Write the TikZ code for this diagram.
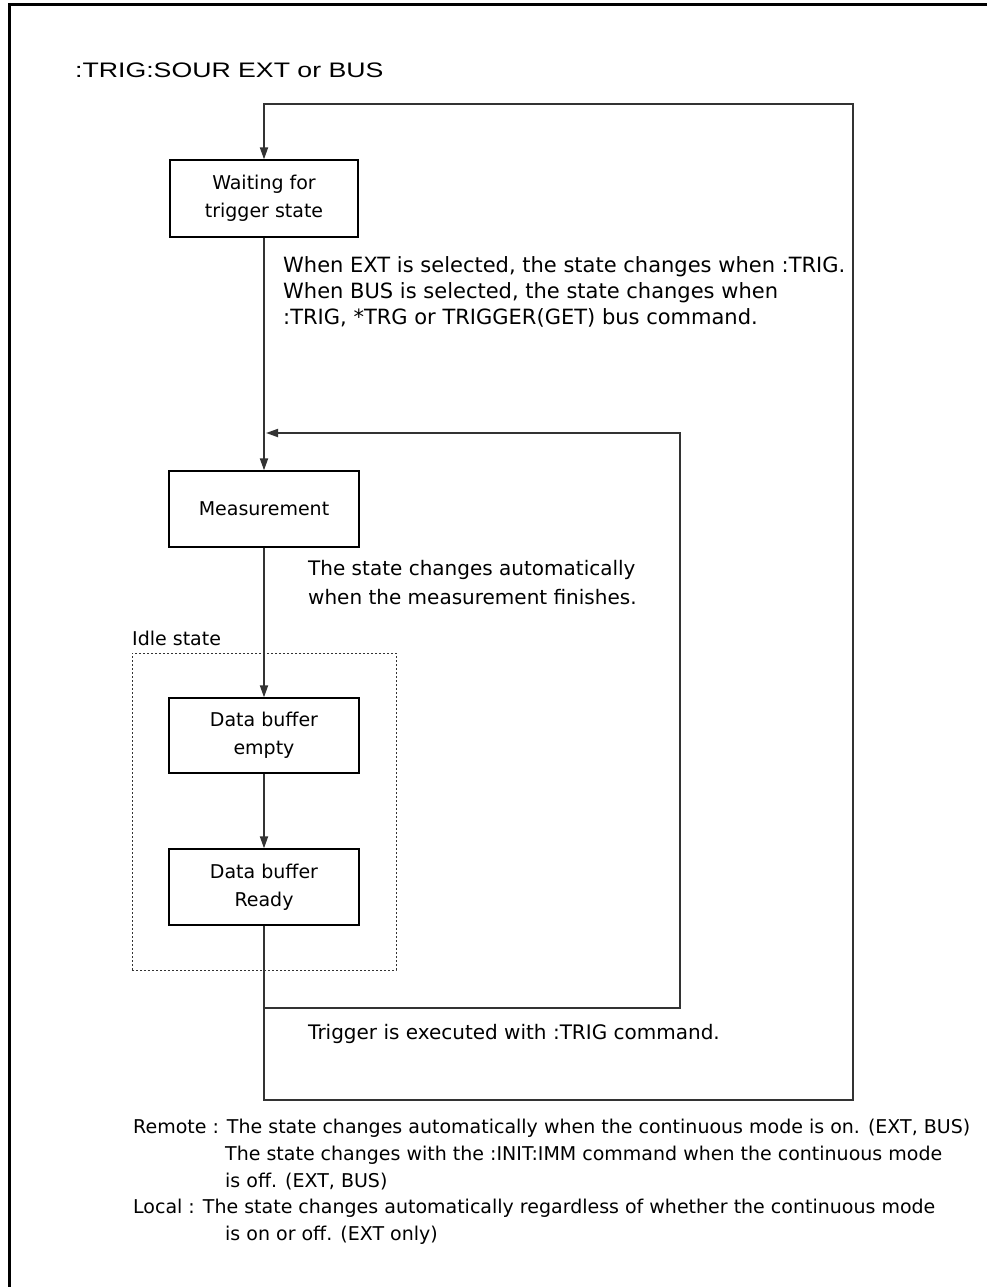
\documentclass[tikz,border=0pt]{standalone}
\usepackage{fontspec}
\usepackage{graphicx}
\setmainfont{DejaVu Sans}
\newfontfamily\titlefont{Liberation Sans}
\usetikzlibrary{arrows.meta}
\begin{document}
\begin{tikzpicture}[x=1pt,y=-1pt,
  every node/.style={font=\fontsize{19}{27}\selectfont, inner sep=0pt},
  state/.style={draw=black, line width=1.3pt, minimum width=190pt, minimum height=76pt, align=center, font=\fontsize{19}{28}\selectfont},
  conn/.style={draw=black!80, line width=1.8pt},
  arr/.style={conn, -{Triangle[length=12pt,width=8pt]}},
  note/.style={anchor=base west, align=left},
  bignote/.style={note, font=\fontsize{20}{27}\selectfont},
  frame/.style={draw=black, line width=3pt},
  idlebox/.style={draw=black!80, line width=1pt, dash pattern=on 2pt off 2pt}]
\useasboundingbox (0,0) rectangle (987,1287);
% outer frame (right and bottom edges lie outside the picture)
\draw[frame] (9,1300) -- (9,5) -- (1000,5);

\node[anchor=base west, font=\titlefont\fontsize{21}{25}\selectfont] (title) at (75,78) {\scalebox{1.27}[1]{:TRIG:SOUR EXT or BUS}};

% states
\node[state, minimum width=188pt, minimum height=77pt] (wait) at (264,198.5) {Waiting for\\trigger state};
\node[state] (meas) at (264,509) {Measurement};
\node[idlebox, minimum width=264pt, minimum height=317pt] (idle) at (264,811.5) {};
\node[anchor=base west] (idlelbl) at (132,645) {Idle state};
\node[state, minimum height=75pt] (empty) at (264,735.5) {Data buffer\\empty};
\node[state] (ready) at (264,887) {Data buffer\\Ready};

% loop corners
\coordinate (tl) at (264,104);
\coordinate (tr) at (853,104);
\coordinate (br) at (853,1100);
\coordinate (bl) at (264,1100);
\coordinate (il) at (264,1008);
\coordinate (ir) at (680,1008);
\coordinate (itr) at (680,433);
\coordinate (itl) at (266,433);

% connectors
\draw[arr] (ready.south) -- (bl) -- (br) -- (tr) -- (tl) -- (wait.north);
\draw[arr] (wait.south) -- (meas.north);
\draw[arr] (meas.south) -- (empty.north);
\draw[arr] (empty.south) -- (ready.north);
\draw[arr] (il) -- (ir) -- (itr) -- (itl);

% notes (anchor base = baseline of the last line)
\node[note, font=\fontsize{21}{26}\selectfont] (t1) at (283,324) {When EXT is selected, the state changes when :TRIG.\\When BUS is selected, the state changes when\\:TRIG, *TRG or TRIGGER(GET) bus command.};
\node[bignote, font=\fontsize{20}{29}\selectfont] (t2) at (308,604) {The state changes automatically\\when the measurement finishes.};
\node[bignote] (t3) at (308,1039) {Trigger is executed with :TRIG command.};
\node[note] (remote) at (133,1133) {Remote : The state changes automatically when the continuous mode is on. (EXT, BUS)};
\node[note] (remote2) at (225,1187) {The state changes with the :INIT:IMM command when the continuous mode\\is off. (EXT, BUS)};
\node[note] (local) at (133,1213) {Local : The state changes automatically regardless of whether the continuous mode};
\node[note] (local2) at (225,1240) {is on or off. (EXT only)};
\end{tikzpicture}
\end{document}
